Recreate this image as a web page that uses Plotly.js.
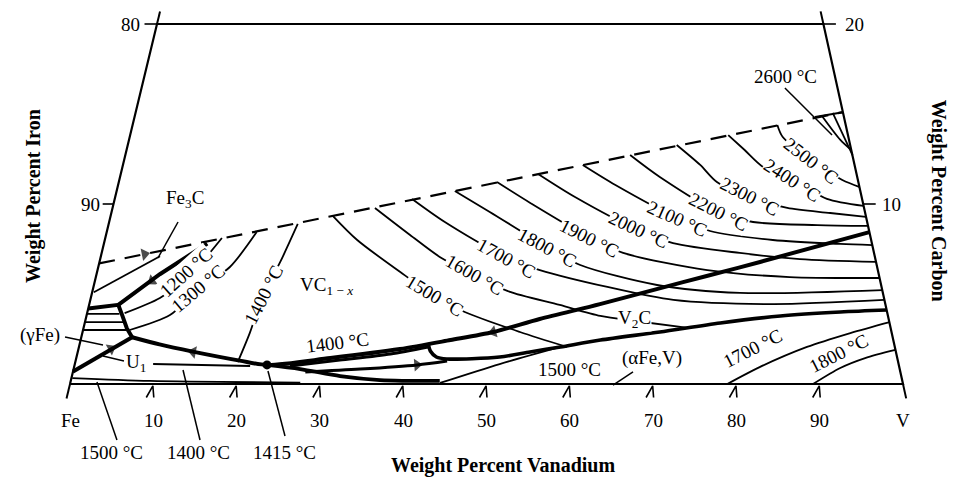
<!DOCTYPE html>
<html><head><meta charset="utf-8">
<script src="https://cdn.plot.ly/plotly-3.0.1.min.js"></script>
<style>html,body{margin:0;padding:0;background:#fff}#chart{width:967px;height:477px}</style>
</head><body><div id="chart"></div>
<script>
// All points are compositions: [wt% V, wt% C]
const frame = [[0,0],[100,0],[80,20],[0,20],[0,0]];
const frameStubs = [[[0,20],[0,20.7]],[[80,20],[79.3,20.7]],[[0,0],[0,-0.8]],[[100,0],[100.8,-0.8]]];
const carbonTicks = [[[-1.3,10],[0,10]],[[-1.5,20],[0,20]],[[90,10],[91.5,10]],[[80,20],[81.5,20]]];
const vanadiumTickVals = [0,10,20,30,40,50,60,70,80,90,100];
const vanadiumTickText = ['Fe','10','20','30','40','50','60','70','80','90','V'];

const vcLimit = [[0,6.7],[84.9,15.1]];            // dashed upper limit
const fe3cTrough = [[3.5,4.4],[7.6,6.1],[12.4,7.8]];
const knot = [[0,4.2],[3.5,4.4],[4.3,3.8],[5.2,3.1],[6.1,2.6]];
const gammaTrough = [[6.1,2.6],[2.8,1.6],[0,0.7]];
const mainTrough = [[6.1,2.6],[9.6,2.2],[13.8,1.8],[19.7,1.3],[23.1,1.06],[30.5,1.44],[38.6,1.94],[44.4,2.44],[49.3,2.89],[54.5,3.61],[61.3,4.44],[68.1,5.33],[73.3,6.0],[79.3,6.78],[91.56,8.44]];
const v2cTrough = [[41.9,2.17],[42.3,1.83],[43.2,1.5],[44.5,1.39],[50.8,1.5],[54.3,1.78],[57.8,2.06],[62.4,2.44],[69.3,2.89],[76.3,3.39],[83.3,3.78],[90.4,4.0],[95.9,4.11]];
const lensLower = [[23.1,1.06],[27.2,0.83],[32.2,0.44],[37.1,0.22],[44.3,0.17]];
const lensInner1 = [[25.9,1.0],[31.7,1.33],[37.6,1.67],[41.9,2.06]];
const lensInner2 = [[27.9,0.67],[34.4,0.83],[41.1,1.06],[44.6,1.28]];
const point1415 = [23.1,1.06];

const alpha1500 = [[44.4,0.06],[51.0,1.11],[57.8,2.06]];
const u1Line = [[9.4,1.11],[21.1,1.0]];
const fe1500 = [[0.1,0.33],[9.5,0.17],[27.6,0.08]];
const fe3cLine = [[0.2,5.1],[7.1,7.1]];
const gammaIso = [[[0,3.9],[3.9,3.9]],[[0,3.44],[4.75,3.44]],[[0,3.0],[5.35,3.0]]];

const iso1200 = [[4.5,3.94],[8.3,4.78],[11.25,6.06],[14.0,8.11]];
const iso1300 = [[5.6,3.0],[10.0,3.83],[12.6,5.22],[15.8,6.5],[18.0,8.44]];
const iso1400 = [[19.5,1.22],[20.1,2.83],[20.6,4.94],[21.7,6.78],[22.7,8.89]];
const iso1500 = [[26.7,9.33],[30.3,8.0],[36.4,6.22],[41.2,4.89],[45.3,4.0],[52.5,2.89],[58.6,2.06]];
const iso1600 = [[31.5,9.78],[36.5,8.28],[40.7,7.06],[45.3,6.06],[49.8,5.17],[56.5,4.39],[61.7,3.78],[66.0,3.5],[72.8,3.11]];
const iso1700 = [[35.7,10.28],[40.3,9.0],[48.8,7.0],[53.1,6.33],[61.7,5.39],[70.0,4.67],[82.1,4.44],[95.3,4.67]];
const iso1800 = [[40.6,10.72],[45.4,9.56],[53.3,7.61],[57.8,6.61],[67.6,5.5],[77.8,5.06],[94.8,5.22]];
const iso1900 = [[45.4,11.22],[50.0,10.06],[58.2,8.11],[62.6,7.28],[73.2,6.33],[83.3,5.94],[94.1,5.89]];
const iso2000 = [[50.1,11.67],[55.2,10.39],[63.7,8.56],[68.3,7.83],[76.6,7.28],[84.0,6.94],[93.2,6.78]];
const iso2100 = [[55.2,12.17],[59.7,11.06],[68.1,9.22],[72.4,8.5],[80.2,8.0],[88.4,7.78],[92.3,7.72]];
const iso2200 = [[60.6,12.72],[64.8,11.5],[72.8,9.56],[77.3,9.0],[85.1,8.83],[91.2,8.78]];
const iso2300 = [[65.9,13.28],[69.3,12.17],[71.8,11.22],[76.2,10.39],[81.0,9.78],[86.3,9.5],[90.7,9.28]];
const iso2400 = [[71.8,13.83],[74.2,13.0],[76.9,12.06],[80.9,11.33],[85.5,10.28],[90.1,9.89]];
const iso2500 = [[77.4,14.39],[78.4,13.72],[82.5,12.44],[86.8,11.33],[89.1,10.94]];
const iso2600a = [[82.5,14.89],[85.4,13.56],[87.0,13.0]];
const iso2600b = [[83.7,15.06],[87.3,12.72]];
const cap2600 = [[81.7,14.83],[84.9,15.1]];
const alpha1700 = [[78.9,0],[82.3,0.94],[87.4,2.06],[92.2,2.83],[96.6,3.44]];
const alpha1800 = [[89.2,0],[92.0,0.89],[94.7,1.44],[98.1,1.89]];

const leaders = [
  [[3.18,0.11],[7.26,-3.11]], [[13.16,0.78],[17.23,-3.11]], [[23.39,0.72],[27.32,-2.89]],
  [[-1.96,2.61],[2.83,2.17]], [[3.15,1.56],[5.81,1.28]], [[65.22,-0.06],[67.24,0.67]],
  [[8.27,9.0],[6.9,7.0]], [[77.24,16.44],[84.26,13.83]]
];
// [from V, from C, tip V, tip C]
const arrows = [[8.64,6.44,6.85,5.72],[2.88,6.98,5.19,7.21],[2.76,1.61,3.92,1.96],
  [19.74,1.28,13.84,1.78],[54.53,3.61,49.3,2.89],[34.37,0.83,41.11,1.06]];

const labelText = ['1200 °C','1300 °C','1400 °C','1500 °C','1600 °C','1700 °C','1800 °C','1900 °C','2000 °C','2100 °C','2200 °C','2300 °C','2400 °C','2500 °C','2600 °C',
  'VC<sub>1 − <i>x</i></sub>','1400 °C','V<sub>2</sub>C','(αFe,V)','1500 °C','1700 °C','1800 °C','Fe<sub>3</sub>C','(γFe)','U<sub>1</sub>','1500 °C','1400 °C','1415 °C'];
const labelV = [10.71,12.61,20.59,41.15,45.34,48.8,53.29,58.18,63.72,68.06,72.8,76.2,80.87,82.46,77.04,
  28.01,30.98,65.94,69.12,59.61,80.83,91.3,8.44,-5.02,7.31,7.04,17.34,27.78];
const labelC = [6.17,5.28,4.94,4.89,6.06,7.0,7.61,8.11,8.56,9.22,9.56,10.39,11.33,12.44,17.06,
  5.44,2.28,3.61,1.44,0.78,2.0,1.72,10.28,2.72,1.17,-3.83,-3.78,-3.78];
const labelAngle = [-42,-40,-63,31,30,29,28,27,25,24,27,27,33,38,0,
  0,-7,0,0,0,-27,-27,0,0,0,0,0,0];
const labelMask = [1,1,1,1,1,1,1,1,1,1,1,1,1,1,0, 0,0,1,0,0,0,0,0,0,1,0,0,0];

const edgeText = ['80','90','20','10'];
const edgeV = [-1.8,-1.4,82.3,92.0];
const edgeC = [20,10,20,10];
const edgeAnchor = ['right','right','left','left'];
const tickLabelC = -2.05;

const SERIF = 'Liberation Serif, Times New Roman, serif';
const SK = 4.35/8.33;                 // skew of the carbon direction
const X = (v,c) => v + SK*c;

const traces = [];
function line(pts, w, opts){
  opts = opts || {};
  traces.push({type:'scatter', mode:'lines', x:pts.map(p=>X(p[0],p[1])), y:pts.map(p=>p[1]),
    line:{color:'#000', width:w, dash:opts.dash||'solid', shape:opts.spline?'spline':'linear', smoothing:0.8},
    hoverinfo:'skip', showlegend:false});
}
line(frame, 2.2);
frameStubs.forEach(s=>line(s,2));
carbonTicks.forEach(s=>line(s,1.6));
vanadiumTickVals.slice(1,-1).forEach(t=>line([[t-0.45,-0.75],[t,-0.1],[t+0.45,-0.75]],1.6));
line(vcLimit, 2.2, {dash:'16px,10px'});
line(cap2600, 2);
[fe3cTrough, knot, gammaTrough].forEach(p=>line(p,4));
line(mainTrough, 4, {spline:true});
line(v2cTrough, 3.6, {spline:true});
line(lensLower, 3.8, {spline:true});
line(lensInner1, 3, {spline:true});
line(lensInner2, 3, {spline:true});
[alpha1500, u1Line, fe1500, fe3cLine].forEach(p=>line(p,1.8,{spline:true}));
gammaIso.forEach(p=>line(p,1.8));
[iso1200,iso1300,iso1400,iso1500,iso1600,iso1700,iso1800,iso1900,iso2000,iso2100,iso2200,iso2300,iso2400,iso2500,iso2600a,iso2600b,alpha1700,alpha1800]
  .forEach(p=>line(p,1.8,{spline:true}));
leaders.forEach(p=>line(p,1.5));

// arrowheads oriented along each line segment
const ax=[], ay=[], asz=[];
arrows.forEach(a=>{ax.push(X(a[0],a[1]),X(a[2],a[3])); ay.push(a[1],a[3]); asz.push(0,11);});
traces.push({type:'scatter', mode:'markers', x:ax, y:ay, hoverinfo:'skip', showlegend:false,
  marker:{symbol:'triangle-up', size:asz, color:'#000', angleref:'previous', line:{width:0}}});
traces.push({type:'scatter', mode:'markers', x:[X(point1415[0],point1415[1])], y:[point1415[1]],
  marker:{size:9,color:'#000'}, hoverinfo:'skip', showlegend:false});

const FONT = {family:SERIF, size:19, color:'#000'};
const annotations = labelText.map((t,i)=>({x:X(labelV[i],labelC[i]), y:labelC[i], xref:'x', yref:'y', text:t,
  textangle:labelAngle[i], showarrow:false, xanchor:'center', yanchor:'middle', borderpad:0,
  bgcolor: labelMask[i] ? '#ffffff' : 'rgba(0,0,0,0)', font:FONT}));
edgeText.forEach((t,i)=>annotations.push({x:X(edgeV[i],edgeC[i]), y:edgeC[i], xref:'x', yref:'y', text:t,
  showarrow:false, xanchor:edgeAnchor[i], yanchor:'middle', font:FONT}));
vanadiumTickVals.forEach((t,i)=>annotations.push({x:X(t,0), y:tickLabelC, xref:'x', yref:'y', text:vanadiumTickText[i],
  showarrow:false, xanchor:'center', yanchor:'middle', font:FONT}));
annotations.push({x:0.520, y:0.025, xref:'paper', yref:'paper', text:'<b>Weight Percent Vanadium</b>', showarrow:false,
  xanchor:'center', yanchor:'middle', font:{family:SERIF,size:20,color:'#000'}});
annotations.push({x:0.034, y:0.589, xref:'paper', yref:'paper', text:'<b>Weight Percent Iron</b>', showarrow:false,
  textangle:-90, xanchor:'center', yanchor:'middle', font:{family:SERIF,size:20,color:'#000'}});
annotations.push({x:0.970, y:0.579, xref:'paper', yref:'paper', text:'<b>Weight Percent Carbon</b>', showarrow:false,
  textangle:90, xanchor:'center', yanchor:'middle', font:{family:SERIF,size:20,color:'#000'}});

const layout = {
  width:967, height:477, margin:{l:0,r:0,t:0,b:0},
  paper_bgcolor:'#fff', plot_bgcolor:'#fff', showlegend:false,
  xaxis:{range:[-70/8.33, 897/8.33], visible:false, fixedrange:true},
  yaxis:{range:[-93/18, 384/18], visible:false, fixedrange:true},
  annotations:annotations
};
Plotly.newPlot('chart', traces, layout, {staticPlot:true, displayModeBar:false});
</script></body></html>
